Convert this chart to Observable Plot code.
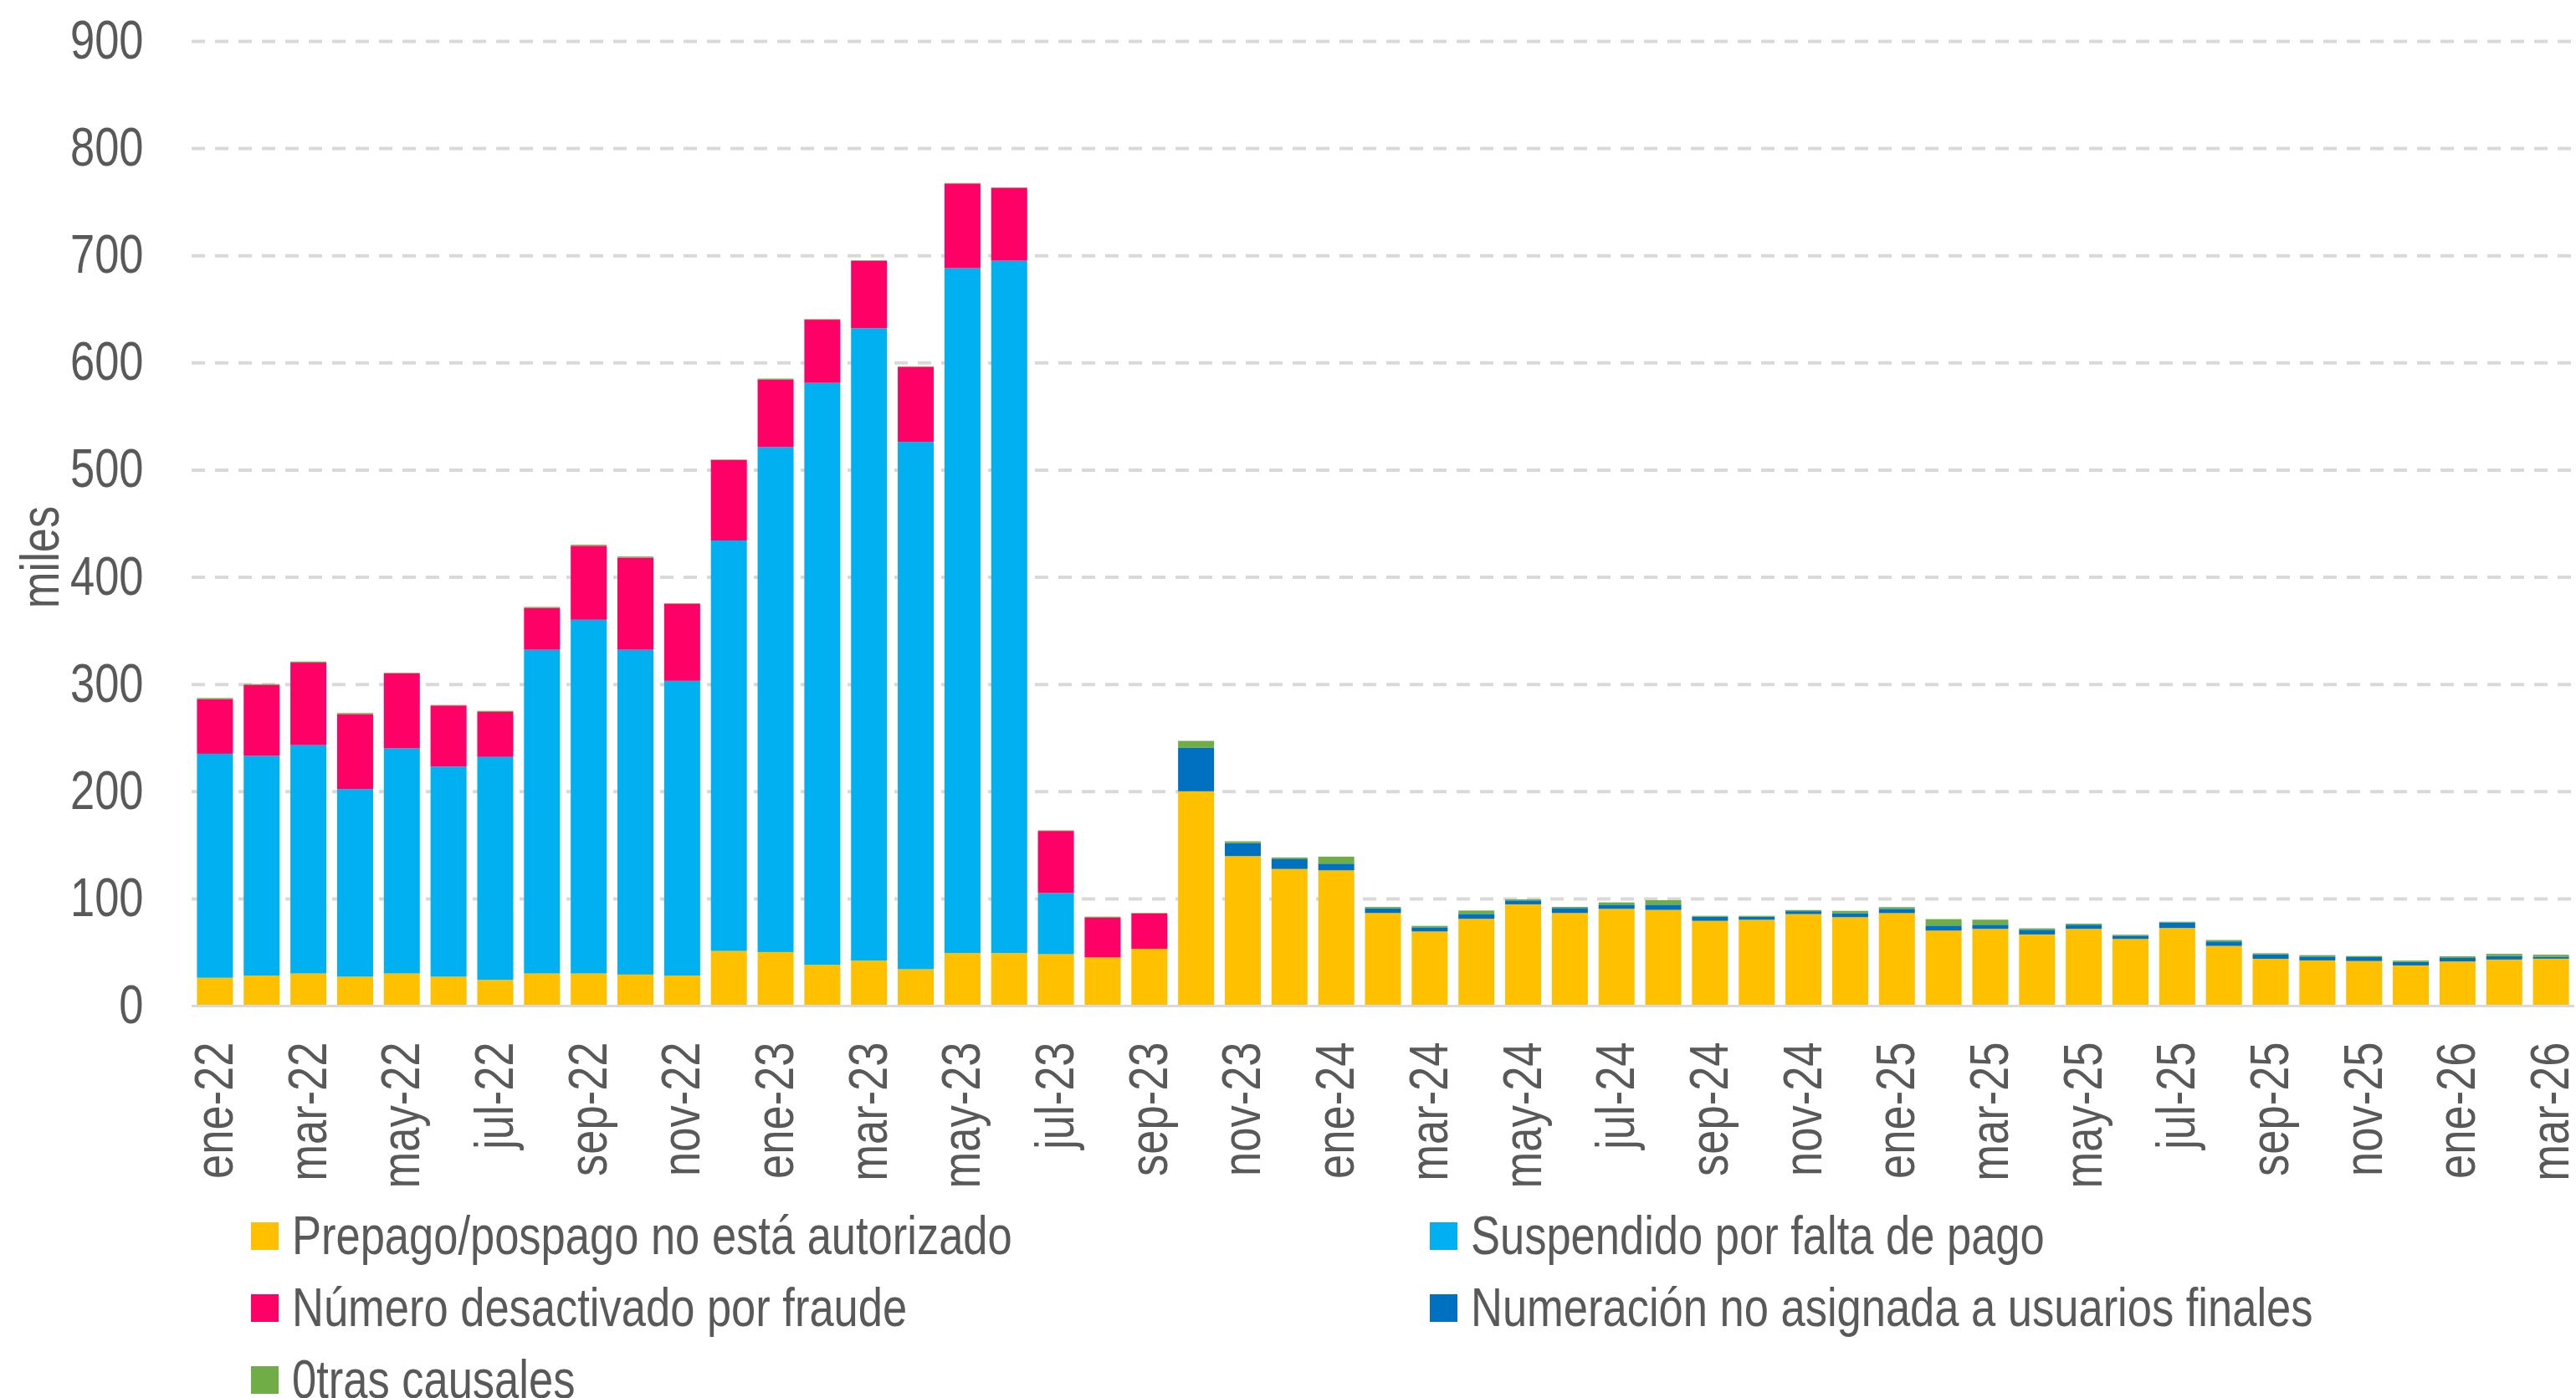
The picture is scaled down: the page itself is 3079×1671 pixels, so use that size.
<!DOCTYPE html>
<html>
<head>
<meta charset="utf-8">
<script src="https://cdn.jsdelivr.net/npm/d3@7"></script>
<script src="https://cdn.jsdelivr.net/npm/@observablehq/plot@0.6"></script>
<style>
  html, body { margin: 0; padding: 0; background: #fff; overflow: hidden; }
  #chart svg { display: block; }
  #legend {
    display: grid;
    grid-template-columns: 1409px auto;
    padding-left: 300px;
    margin-top: 4px;
    font-family: 'Liberation Sans', Arial, sans-serif;
    font-size: 64px;
    color: #595959;
  }
  .item { display: flex; align-items: center; height: 86px; white-space: nowrap; }
  .sw { width: 33px; height: 33px; margin-right: 16px; flex: none; }
  .lab { display: inline-block; transform: scaleX(0.82); transform-origin: 0 50%; }
</style>
</head>
<body>
<div id="chart"></div>
<div id="legend"></div>
<script>
const months = [
  "ene-22","feb-22","mar-22","abr-22","may-22","jun-22","jul-22","ago-22","sep-22","oct-22","nov-22","dic-22",
  "ene-23","feb-23","mar-23","abr-23","may-23","jun-23","jul-23","ago-23","sep-23","oct-23","nov-23","dic-23",
  "ene-24","feb-24","mar-24","abr-24","may-24","jun-24","jul-24","ago-24","sep-24","oct-24","nov-24","dic-24",
  "ene-25","feb-25","mar-25","abr-25","may-25","jun-25","jul-25","ago-25","sep-25","oct-25","nov-25","dic-25",
  "ene-26","feb-26","mar-26"
];

const prepago = [
  26, 28, 30, 27, 30, 27, 24, 30, 30, 29, 28, 51,
  50, 38, 42, 34, 49, 49, 48, 45, 53, 200, 139.5, 127.5,
  126.2, 86.4, 69.2, 81, 94.5, 86.4, 90.3, 89.3, 79.1, 80.1, 85.4, 82.5,
  86.3, 70, 71.6, 66.4, 71.6, 62.2, 72.4, 55.7, 43.7, 42.2, 41.6, 37.5,
  41.2, 43, 43.8
];
const suspendido = [
  209, 205, 213, 175, 210, 196, 208, 302, 330, 303, 275, 383,
  471, 543, 590, 492, 639, 646, 57, 0, 0, 0, 0, 0,
  0, 0, 0, 0, 0, 0, 0, 0, 0, 0, 0, 0,
  0, 0, 0, 0, 0, 0, 0, 0, 0, 0, 0, 0,
  0, 0, 0
];
const fraude = [
  51, 66, 77, 70, 70, 57, 42, 39, 69, 86, 72, 75,
  63, 59, 63, 70, 79, 68, 58, 37, 33, 0, 0, 0,
  0, 0, 0, 0, 0, 0, 0, 0, 0, 0, 0, 0,
  0, 0, 0, 0, 0, 0, 0, 0, 0, 0, 0, 0,
  0, 0, 0
];
const numeracion = [
  0, 0, 0, 0, 0, 0, 0, 0, 0, 0, 0, 0,
  0, 0, 0, 0, 0, 0, 0, 0, 0, 40.5, 12.2, 9.1,
  6.3, 4.4, 3.9, 4.6, 3.6, 4.7, 3.9, 4.9, 3.9, 2.9, 2.7, 3.8,
  4, 4.7, 3.9, 4.4, 3.9, 3.1, 5.2, 4.2, 4.2, 3.6, 3.7, 3.2,
  3.3, 3.4, 1.9
];
const otras = [
  1, 1, 1, 1, 0.5, 0.5, 1, 1, 1, 1, 0.5, 0.5,
  1, 0.5, 0.5, 0.5, 0.5, 0.5, 0.5, 1, 0.5, 6.5, 1.6, 1.6,
  6.5, 1.3, 1.3, 3.1, 1.1, 1, 2.1, 4.2, 0.8, 0.8, 1.1, 2.1,
  1.6, 6, 4.7, 1.3, 1, 0.8, 0.7, 1.3, 1, 1.3, 1, 1.3,
  1.5, 1.9, 1.8
];

const seriesNames = [
  "Prepago/pospago no está autorizado",
  "Suspendido por falta de pago",
  "Número desactivado por fraude",
  "Numeración no asignada a usuarios finales",
  "0tras causales"
];
const seriesColors = ["#FFC000", "#00B0F0", "#FF0066", "#0070C0", "#70AD47"];
const yTicks = [0, 100, 200, 300, 400, 500, 600, 700, 800, 900];
const xTickLabels = months.filter((d, i) => i % 2 === 0);
const yLabel = "miles";

const seriesValues = [prepago, suspendido, fraude, numeracion, otras];
const data = months.flatMap((m, i) =>
  seriesValues.map((arr, k) => ({ month: m, serie: seriesNames[k], value: arr[i] }))
);

const FONT = "'Liberation Sans', Arial, sans-serif";
const SX = 0.82; // narrow (condensed) glyphs as in the reference

const chart = Plot.plot({
  width: 3079,
  height: 1430,
  marginLeft: 229,
  marginRight: 2,
  marginTop: 49,
  marginBottom: 228,
  style: { fontFamily: FONT, fontSize: "64px", color: "#595959", background: "white" },
  x: { domain: months, paddingInner: 0.23, paddingOuter: 0.115, label: null },
  y: { domain: [0, 900], label: null },
  color: { domain: seriesNames, range: seriesColors },
  marks: [
    Plot.gridY(yTicks.slice(1), { stroke: "#D9D9D9", strokeOpacity: 1, strokeWidth: 4, strokeDasharray: "16,12" }),
    Plot.barY(data, { x: "month", y: "value", fill: "serie" }),
    Plot.ruleY([0], { stroke: "#D9D9D9", strokeWidth: 3 }),
    Plot.axisY(yTicks, { tickSize: 0, tickPadding: 58, label: null, fontSize: 64 }),
    Plot.axisX(xTickLabels, { tickSize: 0, tickRotate: -90, tickPadding: 43, label: null, fontSize: 64 }),
    Plot.text([yLabel], { frameAnchor: "left", textAnchor: "middle", dx: -180, dy: 40, rotate: -90, fontSize: 64, fill: "#595959" })
  ]
});

// condense glyphs horizontally (along the text direction)
chart.querySelectorAll("text").forEach(t => {
  const tr = t.getAttribute("transform");
  if (tr) {
    t.setAttribute("transform", tr + ` scale(${SX},1)`);
  } else {
    const x = parseFloat(t.getAttribute("x")) || 0;
    t.setAttribute("x", 0);
    t.setAttribute("transform", `translate(${x},0) scale(${SX},1)`);
  }
});

document.getElementById("chart").appendChild(chart);

const legend = document.getElementById("legend");
seriesNames.forEach((name, k) => {
  const item = document.createElement("div");
  item.className = "item";
  const sw = document.createElement("span");
  sw.className = "sw";
  sw.style.background = seriesColors[k];
  const label = document.createElement("span");
  label.className = "lab";
  label.textContent = name;
  item.appendChild(sw);
  item.appendChild(label);
  legend.appendChild(item);
});
</script>
</body>
</html>
